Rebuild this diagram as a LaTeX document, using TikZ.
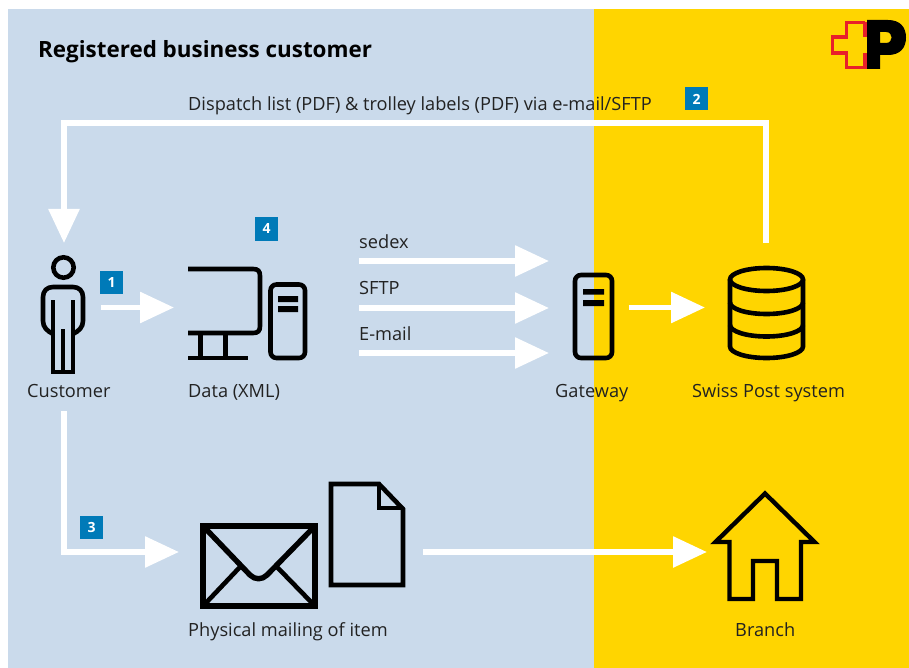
\documentclass[tikz,border=0pt]{standalone}
\usepackage{fontspec}
\setmainfont{Open Sans}
\usetikzlibrary{arrows.meta}
\definecolor{panelblue}{HTML}{CADAEB}
\definecolor{postyellow}{HTML}{FFD500}
\definecolor{badgeblue}{HTML}{007AB8}
\definecolor{postred}{HTML}{E8202A}
\definecolor{inktext}{HTML}{222222}
\tikzset{
  flow/.style={draw=white,line width=5.8pt,-{Triangle[length=34pt,width=30pt]}},
  icon/.style={draw=black,line width=4.6pt,fill=none,line join=miter},
  iconbox/.style={inner sep=0pt,outer sep=0pt,draw=none},
  lab/.style={text=inktext,font=\fontsize{18.2}{20}\selectfont,inner sep=0pt,anchor=base west},
  badge/.style={fill=badgeblue,text=white,font=\fontsize{14}{15}\selectfont\bfseries,minimum width=23pt,minimum height=23pt,inner sep=0pt},
}
\begin{document}
\begin{tikzpicture}[x=1pt,y=-1pt]
\useasboundingbox (0,0) rectangle (909,668);
\fill[white] (0,0) rectangle (909,668);
\fill[panelblue] (8,9) rectangle (594,668);
\fill[postyellow] (594,9) rectangle (909,668);

% logo
\draw[postred,line width=3.8pt,miter limit=10] (865,22.5) -- (846.5,22.5) -- (846.5,37) -- (832.5,37) -- (832.5,53) -- (846.5,53) -- (846.5,67.5) -- (865,67.5) -- (865,53);
\draw[postred,line width=3.8pt] (865,22.5) -- (865,37);
\fill[black,even odd rule] (867,20) -- (888,20) .. controls (900,20) and (906,27) .. (906,37.5) .. controls (906,48) and (900,55) .. (888,55) -- (880,55) -- (880,69) -- (867,69) -- cycle
  (880,32) -- (880,43) -- (886,43) .. controls (893.5,43) and (893.5,32) .. (886,32) -- cycle;

\node[font=\fontsize{22.4}{25}\selectfont\bfseries,text=black,inner sep=0pt,anchor=base west] (title) at (38,58) {Registered business customer};

% icon nodes
\node[iconbox,minimum width=74pt,minimum height=132pt] (customer) at (63.5,307.5) {};
\node[iconbox,minimum width=104pt,minimum height=92pt] (data) at (226,307.5) {};
\node[iconbox,minimum width=34pt,minimum height=90pt] (gateway) at (595.5,307.5) {};
\node[iconbox,minimum width=122pt,minimum height=94pt] (system) at (766,307.5) {};
\node[iconbox,minimum width=244pt,minimum height=120pt] (mailing) at (301,552) {};
\node[iconbox,minimum width=116pt,minimum height=110pt] (branch) at (765,552) {};

% person
\draw[icon] (63.5,267.5) circle (10.2);
\draw[icon] (53,372) -- (53,300) (73,300) -- (73,372) (63,329) -- (63,372);
\draw[icon,line width=4.6pt,line cap=butt] (51,372) -- (75,372);
\draw[icon,line join=round] (53,334) .. controls (47,331) and (43,327) .. (43,321) -- (43,297) .. controls (43,291) and (47,287) .. (53,287) -- (73,287) .. controls (79,287) and (83,291) .. (83,297) -- (83,321) .. controls (83,327) and (79,331) .. (73,334);

% computer
\draw[icon] (188,269) -- (253,269) .. controls (258,269) and (260,271) .. (260,276) -- (260,326) .. controls (260,331) and (258,333) .. (253,333) -- (188,333);
\draw[icon] (200.5,333) -- (200.5,358) (225.5,333) -- (225.5,358) (188,358) -- (248,358);
\draw[icon,rounded corners=6pt] (270.5,284.5) rectangle (305,358);
\fill (278,296) rectangle (298,302) (278,306) rectangle (298,312);

% gateway
\draw[icon,rounded corners=6pt] (575,275) rectangle (612,358);
\fill (583,289) rectangle (604,294.7) (583,300) rectangle (604,306);

% database
\draw[icon] (766.5,279.5) ellipse (36.5 and 11.5);
\draw[icon] (730,279.5) -- (730,346.5) arc (180:0:36.5 and 11.5) -- (803,279.5);
\draw[icon] (730,302.5) arc (180:0:36.5 and 11.5);
\draw[icon] (730,325) arc (180:0:36.5 and 11.5);

% envelope
\draw[icon,line width=5.4pt] (203,526) rectangle (315,606);
\draw[icon,line width=5.4pt,line join=round] (204,527) -- (250,575) .. controls (255,580) and (262,580) .. (267,575) -- (314,527);
\draw[icon,line width=4.6pt] (204,605) -- (240,567) (277,567) -- (314,605);

% document
\draw[icon] (331,484) -- (379,484) -- (403,509) -- (403,585) -- (331,585) -- cycle;
\draw[icon] (379,484) -- (379,508) -- (403,508);

% house
\draw[icon,line width=4.4pt] (729.5,542) -- (715.5,542) -- (765,493.5) -- (814.5,542) -- (801,542) -- (801,599) -- (777,599) -- (777,561) -- (753,561) -- (753,599) -- (729.5,599) -- cycle;

% labels
\node[lab] (lcustomer) at (27,397) {Customer};
\node[lab] (ldata) at (188,397) {Data (XML)};
\node[lab] (lgateway) at (555,397) {Gateway};
\node[lab] (lsystem) at (692,397) {Swiss Post system};
\node[lab] (lmail) at (188,636) {Physical mailing of item};
\node[lab] (lbranch) at (735,636) {Branch};
\node[lab] (ltop) at (188,111) {Dispatch list (PDF) \& trolley labels (PDF) via e-mail/SFTP};
\node[lab] (lsedex) at (359,248) {sedex};
\node[lab] (lsftp) at (359,294) {SFTP};
\node[lab] (lemail) at (359,340) {E-mail};

% badges
\node[badge] (b1) at (111.5,282.5) {1};
\node[badge] (b2) at (696.5,99) {2};
\node[badge] (b3) at (91.5,527.5) {3};
\node[badge] (b4) at (266.5,229) {4};

% free ends of the three transfer arrows
\coordinate (sedexa) at (359,261);
\coordinate (sedexb) at (549,261);
\coordinate (sftpa) at (359,308);
\coordinate (sftpb) at (549,308);
\coordinate (emaila) at (359,353);
\coordinate (emailb) at (549,353);
\coordinate (topin) at (64,243);
\coordinate (topout) at (766,243);

% connectors
\draw[flow] (customer.east) -- (data.west);
\draw[flow] (sedexa) -- (sedexb);
\draw[flow] (sftpa) -- (sftpb);
\draw[flow] (emaila) -- (emailb);
\draw[flow] (gateway.east) ++(16,0) -- (system.west);
\draw[flow] (topout) -- (766,123) -- (64,123) -- (topin);
\draw[flow] (64,411) -- (64,552) -- (mailing.west);
\draw[flow] (mailing.east) -- (branch.west);
\end{tikzpicture}
\end{document}
